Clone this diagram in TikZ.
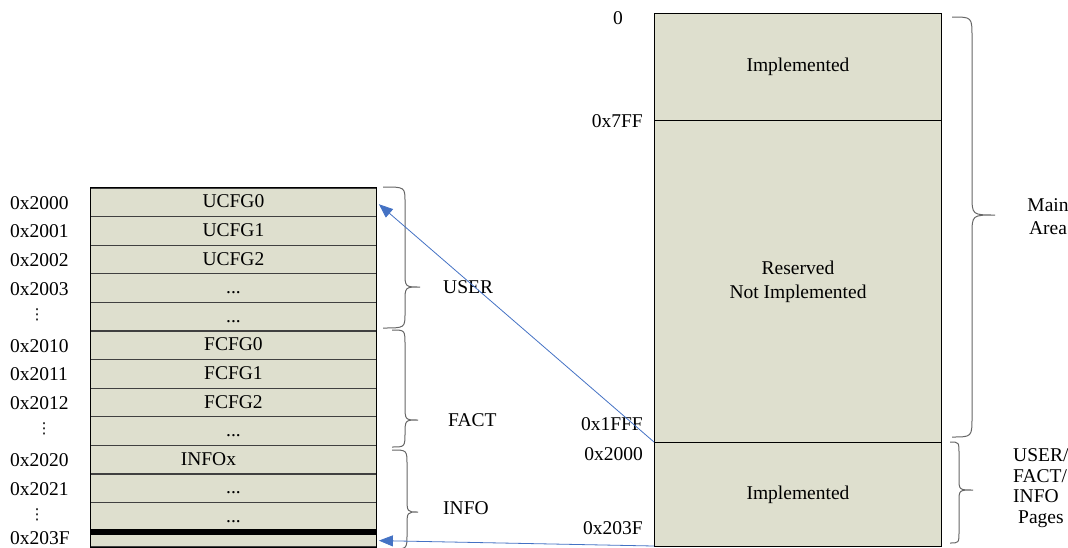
\documentclass[tikz,border=0pt]{standalone}
\usepackage{fontspec}
\setmainfont{Liberation Serif}
\newfontfamily\dejavu{DejaVu Sans}
\usetikzlibrary{arrows.meta}
\definecolor{cellfill}{RGB}{222,223,206}
\definecolor{arrowblue}{RGB}{68,114,196}
\newcommand{\mybrace}[7]{%
  \draw[bracestyle] (#1,#4) .. controls (#2,#4) .. (#2,#4+#7) -- (#2,#5-#7)
    .. controls (#2,#5) .. (#3,#5) .. controls (#2,#5) .. (#2,#5+#7)
    -- (#2,#6-#7) .. controls (#2,#6) .. (#1,#6);}
\begin{document}
\begin{tikzpicture}[x=1pt,y=-1pt,
  every node/.style={font=\fontsize{19.5}{24}\selectfont},
  cell/.style={draw=black!75, line width=1.2pt, fill=cellfill,
    minimum width=285.7pt, minimum height=28.6pt, inner sep=0pt,
    anchor=north west, text height=16pt, text depth=4.6pt},
  bigcell/.style={draw=black, line width=1pt, fill=cellfill,
    minimum width=287pt, inner sep=0pt, anchor=north west, align=center},
  addr/.style={anchor=base west, inner sep=0pt},
  raddr/.style={anchor=base east, inner sep=0pt},
  dotlabel/.style={inner sep=0pt, font=\dejavu\fontsize{15}{15}\selectfont},
  bracestyle/.style={draw=black!60, line width=1pt},
  tag/.style={anchor=west, inner sep=0pt},
  link/.style={draw=arrowblue, line width=0.8pt,
    -{Triangle[length=14pt,width=11pt]}}]
\useasboundingbox (0,0) rectangle (1068,547);

% left table
\node[cell] (r1)  at (90,187.3) {UCFG0};
\node[cell] (r2)  at (90,215.9) {UCFG1};
\node[cell] (r3)  at (90,244.5) {UCFG2};
\node[cell] (r4)  at (90,273.1) {...};
\node[cell] (r5)  at (90,301.7) {...};
\node[cell] (r6)  at (90,330.3) {FCFG0};
\node[cell] (r7)  at (90,358.9) {FCFG1};
\node[cell] (r8)  at (90,387.5) {FCFG2};
\node[cell] (r9)  at (90,416.1) {...};
\node[cell] (r10) at (90,444.7) {INFOx\hspace*{50pt}};
\node[cell] (r11) at (90,473.3) {...};
\node[cell] (r12) at (90,501.9) {...};
\node[cell, minimum height=12pt, text height=0pt, text depth=0pt] (r13) at (90,534) {};
\node[fill=black, minimum width=285.7pt, minimum height=6pt, inner sep=0pt, anchor=north west] (bar) at (90,528.3) {};
\draw[black, line width=1pt] (r1.north west) rectangle (r13.south east);

% left address labels
\node[addr] (l1)  at (10,209.3) {0x2000};
\node[addr] (l2)  at (10,237.9) {0x2001};
\node[addr] (l3)  at (10,266.5) {0x2002};
\node[addr] (l4)  at (10,295.1) {0x2003};
\node[dotlabel] (l5) at (37,315) {⋮};
\node[addr] (l6)  at (10,352.3) {0x2010};
\node[addr] (l7)  at (10,380.9) {0x2011};
\node[addr] (l8)  at (10,409.5) {0x2012};
\node[dotlabel] (l9) at (44,429) {⋮};
\node[addr] (l10) at (10,466.7) {0x2020};
\node[addr] (l11) at (10,495.3) {0x2021};
\node[dotlabel] (l12) at (37,515) {⋮};
\node[addr] (l13) at (10,544) {0x203F};

% left braces and labels
\mybrace{383}{405}{420}{187}{287}{328}{15}
\mybrace{392}{405}{418}{330}{420}{447}{15}
\mybrace{392}{407}{418}{450}{512}{549}{15}
\node[tag] (user) at (443,287) {USER};
\node[tag] (fact) at (448,420) {FACT};
\node[tag] (info) at (443,508) {INFO};

% right memory map
\node[bigcell, minimum height=107pt] (top) at (654,13) {Implemented};
\node[bigcell, minimum height=322pt] (res) at (654,120) {Reserved\\Not Implemented};
\node[bigcell, minimum height=104pt] (bot) at (654,442) {Implemented};

\node[inner sep=0pt, anchor=base] (z0) at (618,24) {0};
\node[raddr] (z1) at (643,127) {0x7FF};
\node[raddr] (z2) at (643,430) {0x1FFF};
\node[raddr] (z3) at (643,460) {0x2000};
\node[raddr] (z4) at (643,534) {0x203F};

% right braces and labels
\mybrace{952}{972}{995}{17}{215}{437}{20}
\mybrace{950}{959}{973}{442}{490}{543}{12}
\node[align=center, inner sep=0pt, font=\fontsize{19.5}{23}\selectfont] (main) at (1048,217) {Main\\Area};
\node[align=left, inner sep=0pt, anchor=west, font=\fontsize{19.5}{20.5}\selectfont] (pages) at (1013,488) {USER/\\FACT/\\INFO\\\hspace*{5pt}Pages};

% connectors
\draw[link] (bot.north west) -- ([xshift=2pt,yshift=-2pt]r1.east);
\draw[link] ([yshift=1pt]bot.south west) -- ([xshift=2pt]r13.east);
\end{tikzpicture}
\end{document}
